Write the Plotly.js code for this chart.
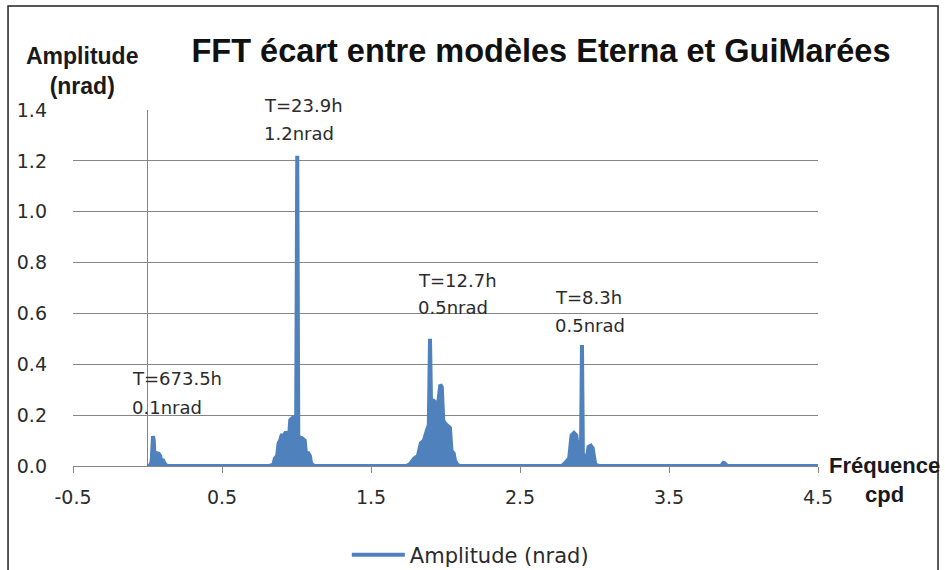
<!DOCTYPE html>
<html>
<head>
<meta charset="utf-8">
<script src="https://cdn.plot.ly/plotly-3.0.1.min.js"></script>
<style>html,body{margin:0;padding:0;background:#fff;}#chart{width:945px;height:570px;}</style>
</head>
<body>
<div id="chart"></div>
<script>
// Frequency (cpd) and FFT amplitude (nrad)
const freq = [
  0.000, 0.020, 0.028, 0.032, 0.037, 0.042, 0.047, 0.055, 0.062, 0.075, 0.085, 0.090, 0.105, 0.115, 0.125, 0.140,
  0.820, 0.844, 0.855, 0.870, 0.880, 0.890, 0.900, 0.915, 0.925, 0.940, 0.952, 0.958, 0.975, 0.990, 0.998, 1.005, 1.012, 1.022, 1.035, 1.055, 1.063, 1.080, 1.090, 1.098, 1.120,
  1.740, 1.762, 1.790, 1.815, 1.835, 1.855, 1.875, 1.888, 1.896, 1.904, 1.915, 1.930, 1.950, 1.965, 1.975, 1.985, 1.993, 2.010, 2.030, 2.040, 2.055, 2.064, 2.080, 2.100,
  2.780, 2.800, 2.830, 2.846, 2.862, 2.878, 2.890, 2.900, 2.910, 2.916, 2.922, 2.935, 2.948, 2.960, 2.975, 2.988, 2.996, 3.005, 3.030,
  3.850, 3.865, 3.875, 3.890, 4.500
];
const amplitude = [
  0, 0.003, 0.02, 0.11, 0.118, 0.10, 0.04, 0.035, 0.05, 0.048, 0.04, 0.025, 0.022, 0.01, 0.002, 0,
  0, 0.005, 0.03, 0.04, 0.09, 0.10, 0.12, 0.12, 0.13, 0.13, 0.13, 0.18, 0.19, 0.19, 0.20, 1.22, 0.12, 0.11, 0.11, 0.10, 0.05, 0.05, 0.04, 0.01, 0,
  0, 0.008, 0.03, 0.04, 0.09, 0.10, 0.14, 0.16, 0.50, 0.20, 0.26, 0.25, 0.24, 0.32, 0.31, 0.18, 0.17, 0.16, 0.15, 0.06, 0.05, 0.02, 0.005, 0,
  0, 0.01, 0.03, 0.12, 0.13, 0.12, 0.06, 0.09, 0.10, 0.476, 0.05, 0.02, 0.03, 0.075, 0.08, 0.07, 0.02, 0.005, 0,
  0, 0.012, 0.01, 0, 0
];
const seriesName = 'Amplitude (nrad)';
const xTickValues = [-0.5, 0.5, 1.5, 2.5, 3.5, 4.5];
const xTickLabels = ['-0.5', '0.5', '1.5', '2.5', '3.5', '4.5'];
const yTickValues = [0, 0.2, 0.4, 0.6, 0.8, 1.0, 1.2, 1.4];
const yTickLabels = ['0.0', '0.2', '0.4', '0.6', '0.8', '1.0', '1.2', '1.4'];
const periodLabels = ['T=673.5h', 'T=23.9h', 'T=12.7h', 'T=8.3h'];
const ampLabels = ['0.1nrad', '1.2nrad', '0.5nrad', '0.5nrad'];

// label placement (paper fractions of the plot area)
const labelX = [0.0766, 0.2536, 0.4604, 0.6442];
const periodY = [0.247, 1.014, 0.522, 0.472];
const ampY = [0.163, 0.935, 0.444, 0.394];

const regFont = 'DejaVu Sans, Verdana, sans-serif';
const boldFont = 'Liberation Sans, Arial, sans-serif';
const grey = '#868686';
const blue = '#4F81BD';

const annotations = [];
for (let i = 0; i < periodLabels.length; i++) {
  annotations.push({x: labelX[i], y: periodY[i], xref: 'paper', yref: 'paper', text: periodLabels[i], showarrow: false,
    xanchor: 'left', yanchor: 'middle', font: {family: regFont, size: 18, color: '#2b2b2b'}});
  annotations.push({x: labelX[i], y: ampY[i], xref: 'paper', yref: 'paper', text: ampLabels[i], showarrow: false,
    xanchor: 'left', yanchor: 'middle', font: {family: regFont, size: 18, color: '#2b2b2b'}});
}
annotations.push({x: 0.012, y: 1.1096, xref: 'paper', yref: 'paper', text: '<b>Amplitude</b><br><b>(nrad)</b>',
  showarrow: false, xanchor: 'center', yanchor: 'middle', align: 'center',
  font: {family: boldFont, size: 23, color: '#1a1a1a'}});
annotations.push({x: 1.0886, y: -0.039, xref: 'paper', yref: 'paper', text: '<b>Fréquence</b><br><b>cpd</b>',
  showarrow: false, xanchor: 'center', yanchor: 'middle', align: 'center',
  font: {family: boldFont, size: 22, color: '#1a1a1a'}});

const fillTrace = {
  x: freq, y: amplitude, type: 'scatter', mode: 'lines', name: seriesName,
  line: {color: blue, width: 0}, fill: 'tozeroy', fillcolor: blue, showlegend: false, hoverinfo: 'skip'
};
const lineTrace = {
  x: freq, y: amplitude, type: 'scatter', mode: 'lines', name: seriesName,
  line: {color: blue, width: 4}, showlegend: true
};

const layout = {
  width: 945, height: 570,
  margin: {l: 73, r: 127, t: 110, b: 104},
  paper_bgcolor: '#fff', plot_bgcolor: '#fff',
  title: {text: '<b>FFT écart entre modèles Eterna et GuiMarées</b>', x: 0.5725, xanchor: 'center',
    y: 0.911, yanchor: 'middle', font: {family: boldFont, size: 32.5, color: '#111'}},
  xaxis: {
    range: [-0.5, 4.5], tickmode: 'array', tickvals: xTickValues, ticktext: xTickLabels,
    showgrid: false, zeroline: true, zerolinecolor: grey, zerolinewidth: 1,
    showline: true, linecolor: grey, linewidth: 1,
    ticks: 'outside', ticklen: 6, tickcolor: grey, ticklabelstandoff: 8,
    tickfont: {family: regFont, size: 19, color: '#2b2b2b'}, fixedrange: true
  },
  yaxis: {
    range: [0, 1.4], tickmode: 'array', tickvals: yTickValues, ticktext: yTickLabels,
    showgrid: true, gridcolor: grey, gridwidth: 1, zeroline: false, showline: false,
    ticks: '', ticklabelstandoff: 25,
    tickfont: {family: regFont, size: 19, color: '#2b2b2b'}, fixedrange: true
  },
  showlegend: true,
  legend: {orientation: 'h', xref: 'container', yref: 'container', x: 0.367, y: 0.026,
    xanchor: 'left', yanchor: 'middle', itemwidth: 53,
    font: {family: regFont, size: 21, color: '#2b2b2b'}, bgcolor: 'rgba(0,0,0,0)'},
  annotations: annotations,
  shapes: [{type: 'rect', xref: 'paper', yref: 'paper', x0: -0.0872, x1: 1.1611, y0: -0.35, y1: 1.2921,
    line: {color: '#222', width: 1.5}, fillcolor: 'rgba(0,0,0,0)', layer: 'below'}]
};

Plotly.newPlot('chart', [fillTrace, lineTrace], layout, {staticPlot: true, displayModeBar: false});
</script>
</body>
</html>
